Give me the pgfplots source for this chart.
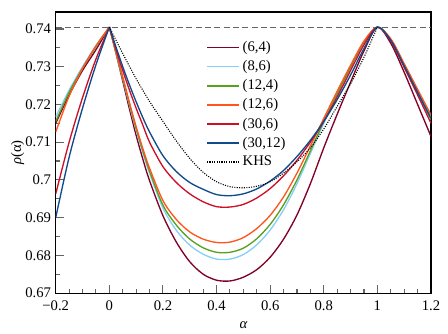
\documentclass[border=0pt]{standalone}
\usepackage{fontspec}
\setmainfont{Liberation Serif}
\usepackage{pgfplots}
\pgfplotsset{compat=1.18}

\definecolor{cMaroon}{RGB}{128,0,38}
\definecolor{cSky}{RGB}{135,206,250}
\definecolor{cGreen}{RGB}{90,160,30}
\definecolor{cOrange}{RGB}{255,85,30}
\definecolor{cRed}{RGB}{205,15,40}
\definecolor{cBlue}{RGB}{15,75,140}
\definecolor{tickgray}{RGB}{100,100,100}

\begin{document}
\begin{tikzpicture}
\begin{axis}[
    font=\fontsize{11pt}{13pt}\selectfont,
    width=281.5pt, height=210.8pt, scale only axis,
    xmin=-0.2, xmax=1.2, ymin=0.67, ymax=0.7445,
    xtick={-0.2,0,0.2,0.4,0.6,0.8,1,1.2},
    xticklabels={−0.2,0,0.2,0.4,0.6,0.8,1,1.2},
    ytick={0.67,0.68,0.69,0.70,0.71,0.72,0.73,0.74},
    yticklabels={0.67,0.68,0.69,0.7,0.71,0.72,0.73,0.74},
    minor x tick num=3, minor y tick num=1,
    xtick pos=bottom, ytick pos=left,
    tick align=inside,
    major tick length=6pt, minor tick length=3.4pt,
    every tick/.style={tickgray, line width=0.8pt},
    axis line style={line width=0.8pt},
    xticklabel style={yshift=-2pt},
    xlabel={\itshape α}, ylabel={{\itshape ρ}(α)},
    xlabel style={yshift=-1.5pt},
    ylabel style={yshift=-6pt},
    legend style={at={(0.39,0.915)}, anchor=north west, draw=none, fill=none,
      font=\fontsize{11pt}{13pt}\selectfont, row sep=1.2pt},
    legend cell align=left,
    legend image code/.code={\draw[#1, line width=1.1pt] (0cm,0cm) -- (0.85cm,0cm);},
    curve/.style={#1, line width=1pt, smooth},
]
% close packing limit
\addplot[forget plot, dash pattern=on 4.5pt off 2.5pt, tickgray, line width=1pt]
  coordinates {(-0.2,0.74048) (1.2,0.74048)};

% left branches (alpha < 0)
\addplot[forget plot, curve=cMaroon] coordinates {(-0.2,0.7150) (-0.15,0.7225) (-0.1,0.7290) (-0.05,0.7345) (0,0.7405)};
\addplot[forget plot, curve=cSky] coordinates {(-0.2,0.7167) (-0.15,0.7238) (-0.1,0.7300) (-0.05,0.7356) (0,0.7405)};
\addplot[forget plot, curve=cGreen] coordinates {(-0.2,0.7155) (-0.15,0.7232) (-0.1,0.7296) (-0.05,0.7353) (0,0.7405)};
\addplot[forget plot, curve=cOrange] coordinates {(-0.2,0.7127) (-0.15,0.7222) (-0.1,0.7295) (-0.05,0.7355) (0,0.7405)};
\addplot[forget plot, curve=cRed] coordinates {(-0.2,0.6963) (-0.15,0.7100) (-0.1,0.7218) (-0.05,0.7320) (0,0.7405)};
\addplot[forget plot, curve=cBlue] coordinates {(-0.2,0.6900) (-0.15,0.7060) (-0.1,0.7190) (-0.05,0.7305) (0,0.7405)};

% main branches
\addplot[curve=cMaroon] coordinates {
 (0,0.7405) (0.025,0.7335) (0.05,0.7262) (0.075,0.7188) (0.1,0.7118) (0.125,0.7055)
 (0.15,0.6998) (0.2,0.6905) (0.25,0.6835) (0.3,0.6783) (0.35,0.6750) (0.4,0.6734)
 (0.45,0.6732) (0.5,0.6742) (0.55,0.6762) (0.6,0.6795) (0.65,0.6843) (0.7,0.6907)
 (0.75,0.6990) (0.8,0.7085) (0.85,0.7174) (0.9,0.7259) (0.95,0.7342) (1.0,0.7405)
 (1.05,0.7362) (1.1,0.7285) (1.15,0.7200) (1.2,0.7115)};
\addlegendentry{(6,4)}
\addplot[curve=cSky] coordinates {
 (0,0.7405) (0.025,0.7337) (0.05,0.7268) (0.075,0.7198) (0.1,0.7132) (0.125,0.7072)
 (0.15,0.7018) (0.2,0.6925) (0.25,0.6866) (0.3,0.6827) (0.35,0.6803) (0.4,0.6790)
 (0.45,0.6790) (0.5,0.6802) (0.55,0.6828) (0.6,0.6867) (0.65,0.6921) (0.7,0.6990)
 (0.75,0.7070) (0.8,0.7150) (0.85,0.7225) (0.9,0.7298) (0.95,0.7365) (1.0,0.7405)
 (1.05,0.7372) (1.1,0.7305) (1.15,0.7235) (1.2,0.7166)};
\addlegendentry{(8,6)}
\addplot[curve=cGreen] coordinates {
 (0,0.7405) (0.025,0.7338) (0.05,0.7270) (0.075,0.7201) (0.1,0.7136) (0.125,0.7077)
 (0.15,0.7023) (0.2,0.6933) (0.25,0.6880) (0.3,0.6843) (0.35,0.6820) (0.4,0.6808)
 (0.45,0.6808) (0.5,0.6819) (0.55,0.6844) (0.6,0.6882) (0.65,0.6934) (0.7,0.7000)
 (0.75,0.7077) (0.8,0.7155) (0.85,0.7228) (0.9,0.7299) (0.95,0.7365) (1.0,0.7405)
 (1.05,0.7371) (1.1,0.7303) (1.15,0.7232) (1.2,0.7160)};
\addlegendentry{(12,4)}
\addplot[curve=cOrange] coordinates {
 (0,0.7405) (0.025,0.7340) (0.05,0.7273) (0.075,0.7205) (0.1,0.7141) (0.125,0.7083)
 (0.15,0.7031) (0.2,0.6945) (0.25,0.6895) (0.3,0.6862) (0.35,0.6843) (0.4,0.6834)
 (0.45,0.6835) (0.5,0.6847) (0.55,0.6871) (0.6,0.6906) (0.65,0.6955) (0.7,0.7018)
 (0.75,0.7090) (0.8,0.7163) (0.85,0.7235) (0.9,0.7304) (0.95,0.7368) (1.0,0.7405)
 (1.05,0.7374) (1.1,0.7308) (1.15,0.7240) (1.2,0.7172)};
\addlegendentry{(12,6)}
\addplot[curve=cRed] coordinates {
 (0,0.7405) (0.025,0.7345) (0.05,0.7290) (0.075,0.7238) (0.1,0.7190) (0.125,0.7145)
 (0.15,0.7100) (0.2,0.7035) (0.25,0.6993) (0.3,0.6963) (0.35,0.6942) (0.4,0.6929)
 (0.45,0.6928) (0.5,0.6935) (0.55,0.6952) (0.6,0.6977) (0.65,0.7011) (0.7,0.7052)
 (0.75,0.7100) (0.8,0.7155) (0.85,0.7220) (0.9,0.7290) (0.95,0.7358) (1.0,0.7405)
 (1.05,0.7368) (1.1,0.7298) (1.15,0.7225) (1.2,0.7150)};
\addlegendentry{(30,6)}
\addplot[curve=cBlue] coordinates {
 (0,0.7405) (0.025,0.7352) (0.05,0.7300) (0.075,0.7252) (0.1,0.7207) (0.125,0.7165)
 (0.15,0.7127) (0.2,0.7064) (0.25,0.7022) (0.3,0.6993) (0.35,0.6975) (0.4,0.6961)
 (0.45,0.6958) (0.5,0.6963) (0.55,0.6976) (0.6,0.6997) (0.65,0.7025) (0.7,0.7062)
 (0.75,0.7105) (0.8,0.7155) (0.85,0.7213) (0.9,0.7278) (0.95,0.7348) (1.0,0.7405)
 (1.05,0.7370) (1.1,0.7302) (1.15,0.7232) (1.2,0.7163)};
\addlegendentry{(30,12)}
\addplot[black, densely dotted, line width=0.8pt, smooth] coordinates {
 (0,0.7405) (0.05,0.7335) (0.1,0.7268) (0.15,0.7208) (0.2,0.7155) (0.25,0.7103)
 (0.3,0.7057) (0.35,0.7020) (0.4,0.6995) (0.45,0.6982) (0.5,0.6979) (0.55,0.6983)
 (0.6,0.6995) (0.65,0.7018) (0.7,0.7048) (0.75,0.7085) (0.8,0.7135) (0.85,0.7195)
 (0.9,0.7255) (0.95,0.7325) (1.0,0.7405)};
\addlegendentry{KHS}
\end{axis}
\path (current axis.south west) +(-41.8pt,-25.5pt) rectangle ([shift={(12.75pt,9pt)}]current axis.north east);
\end{tikzpicture}
\end{document}
